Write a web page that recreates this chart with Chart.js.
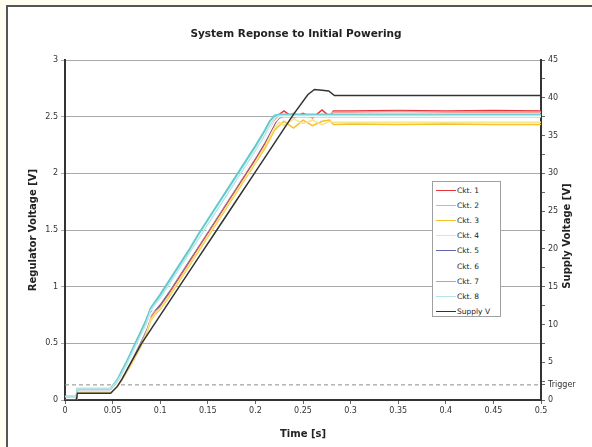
<!DOCTYPE html>
<html><head><meta charset="utf-8">
<script src="https://cdn.jsdelivr.net/npm/chart.js@4"></script>
<style>
html,body{margin:0;padding:0;width:592px;height:447px;overflow:hidden;background:#fffdf0;}
#frame{position:absolute;left:6px;top:5px;width:600px;height:460px;background:#fff;border-left:2px solid #555;border-top:2px solid #555;}
#wrap{position:absolute;left:0;top:0;width:592px;height:447px;}
#legend{position:absolute;left:432px;top:181px;width:69px;height:136px;border:1px solid #a0a0a0;background:#fff;font:7.5px 'DejaVu Sans';color:#222;box-sizing:border-box;padding-top:1px;}
.item{height:15.1px;display:flex;align-items:center;white-space:nowrap;}
.sw{width:20px;height:0;border-top:1.5px solid;margin-left:3px;margin-right:1px;}
</style></head>
<body>
<div id="frame"></div>
<div id="wrap"><canvas id="c" width="592" height="447"></canvas></div>
<div id="legend"></div>
<script>
const chartTitle = 'System Reponse to Initial Powering';
const xTitle = 'Time [s]';
const leftTitle = 'Regulator Voltage [V]';
const rightTitle = 'Supply Voltage [V]';

const xTickValues = [0,0.05,0.1,0.15,0.2,0.25,0.3,0.35,0.4,0.45,0.5];
const xTickLabels = ['0','0.05','0.1','0.15','0.2','0.25','0.3','0.35','0.4','0.45','0.5'];
const leftTickValues = [0,0.5,1,1.5,2,2.5,3];
const leftTickLabels = ['0','0.5','1','1.5','2','2.5','3'];
const rightTickValues = [0,5,10,15,20,25,30,35,40,45];
const rightTickLabels = ['0','5','10','15','20','25','30','35','40','45'];
const rightMinorTicks = [2.5,7.5,12.5,17.5,22.5,27.5,32.5,37.5,42.5];
const triggerLevel = 2;
const triggerLabel = 'Trigger';

const seriesNames = ['Ckt. 1','Ckt. 2','Ckt. 3','Ckt. 4','Ckt. 5','Ckt. 6','Ckt. 7','Ckt. 8'];
const supplyName = 'Supply V';

const time = [0,0.012,0.013,0.03,0.048,0.055,0.06,0.065,0.07,0.08,0.085,0.09,0.095,0.1,0.11,0.12,0.13,0.14,0.15,0.16,0.17,0.18,0.19,0.2,0.21,0.215,0.22,0.225,0.23,0.24,0.25,0.26,0.27,0.278,0.282,0.3,0.35,0.4,0.45,0.5];

const ckt1 = [0,0,0.08,0.08,0.08,0.13,0.20,0.27,0.35,0.51,0.60,0.72,0.79,0.83,0.95,1.08,1.21,1.34,1.47,1.60,1.73,1.86,1.99,2.12,2.26,2.35,2.43,2.52,2.55,2.49,2.53,2.49,2.56,2.50,2.55,2.55,2.555,2.55,2.555,2.55];
const ckt2 = [0,0,0.08,0.08,0.08,0.14,0.21,0.28,0.36,0.52,0.61,0.74,0.80,0.85,0.97,1.10,1.23,1.36,1.49,1.62,1.75,1.88,2.02,2.15,2.29,2.37,2.46,2.52,2.50,2.53,2.50,2.52,2.51,2.52,2.54,2.54,2.545,2.54,2.54,2.54];
const ckt3 = [0,0,0.07,0.07,0.07,0.12,0.18,0.25,0.32,0.48,0.57,0.70,0.76,0.80,0.92,1.05,1.18,1.31,1.44,1.57,1.70,1.83,1.96,2.09,2.22,2.30,2.38,2.42,2.46,2.40,2.47,2.42,2.46,2.47,2.43,2.435,2.43,2.435,2.43,2.43];
const ckt4 = [0,0,0.07,0.07,0.07,0.12,0.19,0.26,0.33,0.49,0.58,0.71,0.77,0.81,0.93,1.06,1.19,1.32,1.45,1.58,1.71,1.84,1.97,2.10,2.24,2.32,2.40,2.45,2.42,2.48,2.44,2.47,2.43,2.46,2.45,2.45,2.45,2.45,2.45,2.45];
const ckt5 = [0,0,0.08,0.08,0.08,0.14,0.21,0.28,0.36,0.53,0.62,0.77,0.80,0.84,0.97,1.10,1.23,1.36,1.49,1.62,1.75,1.88,2.01,2.14,2.28,2.36,2.44,2.49,2.50,2.50,2.50,2.50,2.50,2.50,2.50,2.50,2.50,2.50,2.50,2.50];
const ckt6 = [0,0,0.08,0.08,0.08,0.14,0.21,0.29,0.37,0.54,0.63,0.76,0.81,0.86,0.98,1.11,1.24,1.37,1.50,1.63,1.76,1.89,2.02,2.15,2.29,2.37,2.45,2.50,2.50,2.50,2.50,2.50,2.50,2.50,2.50,2.50,2.50,2.50,2.50,2.50];
const ckt7 = [0.03,0.03,0.10,0.10,0.10,0.18,0.26,0.34,0.43,0.61,0.70,0.81,0.87,0.93,1.06,1.19,1.32,1.46,1.59,1.72,1.85,1.98,2.11,2.24,2.38,2.46,2.51,2.52,2.52,2.52,2.52,2.52,2.52,2.52,2.52,2.52,2.52,2.52,2.52,2.52];
const ckt8 = [0.03,0.03,0.10,0.10,0.10,0.17,0.24,0.32,0.41,0.58,0.67,0.79,0.85,0.90,1.03,1.16,1.29,1.42,1.55,1.68,1.81,1.94,2.07,2.20,2.34,2.42,2.49,2.51,2.51,2.51,2.51,2.51,2.51,2.51,2.51,2.51,2.51,2.51,2.51,2.51];

const supplyTime = [0,0.012,0.013,0.03,0.048,0.055,0.06,0.07,0.08,0.1,0.12,0.14,0.16,0.18,0.2,0.22,0.24,0.255,0.262,0.27,0.277,0.283,0.3,0.35,0.4,0.45,0.5];
const supplyV = [0,0,0.9,0.9,0.9,1.8,2.8,5.1,7.4,11.2,15.0,18.8,22.6,26.4,30.2,34.0,37.8,40.4,41.1,41.0,40.9,40.3,40.3,40.3,40.3,40.3,40.3];

const triggerTime = [0,0.5];

const cktValues = [ckt1,ckt2,ckt3,ckt4,ckt5,ckt6,ckt7,ckt8];
const cktColors = ['#e8343a','#f4a3a3','#f5c02a','#f7e58a','#6565ad','#ffffff','#62c9cc','#b5e6e6'];
const cktWidths = [1.5,1.5,1.5,1.5,1.5,1.5,2,1.5];
const supplyColor = '#333333';
const triggerColor = '#8c8c8c';

const FAM = "'DejaVu Sans', sans-serif";
const tickFont = {family: FAM, size: 8};
const titleFont = {family: FAM, size: 10.5, weight: 'bold'};
const axisTitleFont = {family: FAM, size: 10, weight: 'bold'};

const datasets = [];
cktValues.forEach((vals, i) => {
  datasets.push({
    label: seriesNames[i],
    data: time.map((t, j) => ({x: t, y: vals[j]})),
    borderColor: cktColors[i], backgroundColor: cktColors[i],
    borderWidth: cktWidths[i], yAxisID: 'y', order: 10 - i,
    pointRadius: 0, fill: false, tension: 0
  });
});
datasets.push({
  label: supplyName,
  data: supplyTime.map((t, j) => ({x: t, y: supplyV[j]})),
  borderColor: supplyColor, backgroundColor: supplyColor,
  borderWidth: 1.5, yAxisID: 'y2', order: 1, pointRadius: 0, tension: 0
});
datasets.push({
  label: triggerLabel,
  data: triggerTime.map(t => ({x: t, y: triggerLevel})),
  borderColor: triggerColor, borderWidth: 1, borderDash: [4, 3],
  yAxisID: 'y2', order: 20, pointRadius: 0, tension: 0
});

const rightTitlePlugin = {
  id: 'rightTitle',
  afterDraw(chart) {
    const c = chart.ctx;
    c.save();
    c.translate(567, chart.chartArea.top + (chart.chartArea.bottom - chart.chartArea.top) / 2 + 6);
    c.rotate(-Math.PI / 2);
    c.font = 'bold 10px ' + FAM;
    c.fillStyle = '#222';
    c.textAlign = 'center';
    c.textBaseline = 'middle';
    c.fillText(rightTitle, 0, 0);
    c.restore();
  }
};

const chart = new Chart(document.getElementById('c'), {
  type: 'line',
  data: {datasets},
  options: {
    responsive: false, animation: false,
    layout: {padding: {left: 0, right: 0, top: 0, bottom: 0}},
    plugins: {
      legend: {display: false}, tooltip: {enabled: false},
      title: {display: true, text: chartTitle, font: titleFont, color: '#222', padding: {top: 28, bottom: 19.4}}
    },
    scales: {
      x: {
        type: 'linear', min: 0, max: 0.5,
        afterBuildTicks: s => { s.ticks = xTickValues.map(v => ({value: v})); },
        ticks: {callback: (v, i) => xTickLabels[i], font: tickFont, color: '#333', padding: 2, maxRotation: 0, autoSkip: false},
        grid: {drawOnChartArea: false, tickLength: 4, color: '#666'},
        border: {color: '#333', width: 2},
        title: {display: true, text: xTitle, font: axisTitleFont, color: '#222', padding: {top: 0, bottom: 7}},
        afterFit: s => { s.height = 47; }
      },
      y: {
        position: 'left', min: 0, max: 3,
        afterBuildTicks: s => { s.ticks = leftTickValues.map(v => ({value: v})); },
        ticks: {callback: (v, i) => leftTickLabels[i], font: tickFont, color: '#333', padding: 3, autoSkip: false},
        grid: {color: '#aaaaaa', lineWidth: 1, tickLength: 4},
        border: {color: '#333', width: 2},
        title: {display: true, text: leftTitle, font: axisTitleFont, color: '#222', padding: {top: 27, bottom: 0}},
        afterFit: s => { s.width = 65; }
      },
      y2: {
        position: 'right', min: 0, max: 45,
        afterBuildTicks: s => {
          const vals = rightTickValues.concat(rightMinorTicks, [triggerLevel]).sort((a, b) => a - b);
          s.ticks = vals.map(v => ({value: v}));
        },
        ticks: {
          callback: (v) => {
            const k = rightTickValues.indexOf(v);
            if (k >= 0) return rightTickLabels[k];
            if (v === triggerLevel) return triggerLabel;
            return '';
          },
          font: tickFont, color: '#333', padding: 3, autoSkip: false
        },
        grid: {drawOnChartArea: false, tickLength: 4, color: '#666'},
        border: {color: '#333', width: 2},
        afterFit: s => { s.width = 51; }
      }
    }
  },
  plugins: [rightTitlePlugin]
});

const leg = document.getElementById('legend');
const legendEntries = seriesNames.map((n, i) => ({name: n, color: cktColors[i]})).concat([{name: supplyName, color: supplyColor}]);
legendEntries.forEach(e => {
  const d = document.createElement('div');
  d.className = 'item';
  const sw = document.createElement('span');
  sw.className = 'sw';
  sw.style.borderTopColor = e.color;
  const tx = document.createElement('span');
  tx.textContent = e.name;
  d.appendChild(sw); d.appendChild(tx);
  leg.appendChild(d);
});
</script>
</body></html>
